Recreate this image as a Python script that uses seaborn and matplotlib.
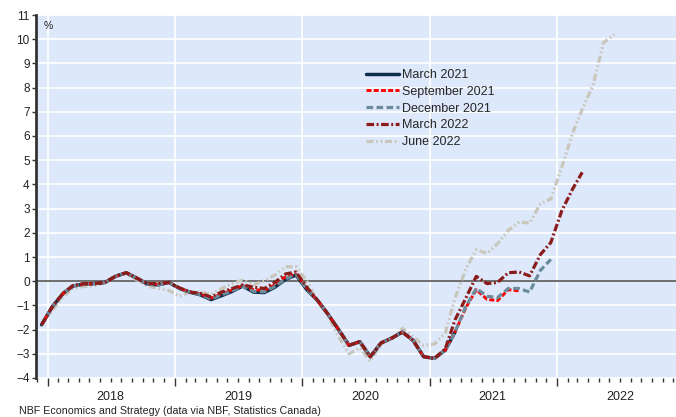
import numpy as np
import pandas as pd
import matplotlib
matplotlib.use("Agg")
import matplotlib.pyplot as plt
import matplotlib.dates as mdates
from matplotlib.ticker import FuncFormatter, NullFormatter, MultipleLocator
import seaborn as sns

# ---------------- data (monthly, starting Dec 2017) ----------------
start_month = "2017-12"

march_2021 = [-1.8, -1.05, -0.5, -0.2, -0.12, -0.1, -0.05, 0.2, 0.35, 0.12, -0.12, -0.15, -0.05,
              -0.3, -0.46, -0.56, -0.76, -0.6, -0.42, -0.2, -0.45, -0.47, -0.25, 0.08, 0.25,
              -0.35, -0.8, -1.35, -2.0, -2.65, -2.5, -3.12, -2.55, -2.35, -2.1, -2.45, -3.12,
              -3.19, -2.85, -2.1]

september_2021 = [-1.8, -1.05, -0.5, -0.2, -0.12, -0.1, -0.05, 0.2, 0.35, 0.12, -0.12, -0.12, -0.05,
                  -0.3, -0.45, -0.53, -0.7, -0.53, -0.36, -0.18, -0.35, -0.38, -0.15, 0.18, 0.3,
                  -0.3, -0.8, -1.35, -2.0, -2.65, -2.5, -3.12, -2.55, -2.35, -2.1, -2.45, -3.12,
                  -3.19, -2.85, -2.1, -1.1, -0.35, -0.75, -0.8, -0.35, -0.4]

december_2021 = [-1.8, -1.05, -0.5, -0.2, -0.12, -0.1, -0.05, 0.2, 0.35, 0.12, -0.12, -0.15, -0.05,
                 -0.3, -0.46, -0.55, -0.73, -0.57, -0.4, -0.2, -0.42, -0.44, -0.22, 0.1, 0.27,
                 -0.33, -0.8, -1.35, -2.0, -2.65, -2.5, -3.12, -2.55, -2.35, -2.1, -2.45, -3.12,
                 -3.19, -2.85, -2.1, -1.05, -0.3, -0.62, -0.68, -0.3, -0.3, -0.45, 0.45, 0.9]

march_2022 = [-1.8, -1.05, -0.5, -0.18, -0.1, -0.1, -0.05, 0.2, 0.35, 0.12, -0.1, -0.1, -0.05,
              -0.28, -0.45, -0.5, -0.65, -0.45, -0.3, -0.15, -0.25, -0.3, -0.05, 0.3, 0.38,
              -0.25, -0.8, -1.35, -2.0, -2.65, -2.5, -3.12, -2.55, -2.35, -2.1, -2.45, -3.12,
              -3.19, -2.8, -1.6, -0.7, 0.2, -0.1, -0.05, 0.35, 0.38, 0.22, 1.1, 1.6,
              2.9, 3.8, 4.5]

june_2022 = [-1.8, -1.2, -0.65, -0.3, -0.22, -0.2, -0.05, 0.22, 0.3, 0.05, -0.2, -0.3, -0.38,
             -0.62, -0.45, -0.45, -0.55, -0.3, -0.1, 0.05, -0.15, 0.02, 0.25, 0.6, 0.6,
             0.0, -0.85, -1.4, -2.3, -3.0, -2.75, -3.3, -2.6, -2.35, -1.95, -2.3, -2.65,
             -2.6, -2.15, -0.7, 0.5, 1.3, 1.15, 1.55, 2.1, 2.45, 2.4, 3.2, 3.4,
             4.7, 6.1, 7.1, 8.1, 9.85, 10.2]

series = {
    "March 2021": march_2021,
    "September 2021": september_2021,
    "December 2021": december_2021,
    "March 2022": march_2022,
    "June 2022": june_2022,
}

y_ticks = list(range(-4, 12))
source_text = "NBF Economics and Strategy (data via NBF, Statistics Canada)"

# ---------------- styles ----------------
styles = {
    "March 2021": dict(color="#0c2f4b", lw=2.5, ls="-"),
    "September 2021": dict(color="#ff0000", lw=2.1, ls=(0, (3.6, 1.6))),
    "December 2021": dict(color="#6b8b9b", lw=2.3, ls=(0, (4.8, 2.4))),
    "March 2022": dict(color="#8b1c1c", lw=2.3, ls=(0, (5.5, 1.8, 1.4, 1.8))),
    "June 2022": dict(color="#c9c6bb", lw=2.3, ls=(0, (5.0, 2.0, 1.2, 2.0, 1.2, 2.0))),
}
draw_order = ["June 2022", "March 2021", "September 2021", "December 2021", "March 2022"]

frames = []
for name, vals in series.items():
    dates = pd.date_range(start_month, periods=len(vals), freq="MS") + pd.Timedelta(days=14)
    frames.append(pd.DataFrame({"date": dates, "value": vals, "vintage": name}))
df = pd.concat(frames, ignore_index=True)

sns.set_theme(style="white")
plt.rcParams["font.family"] = ["Liberation Sans", "DejaVu Sans"]
plt.rcParams["lines.scale_dashes"] = False

fig = plt.figure(figsize=(6.76, 4.17), dpi=100)
ax = fig.add_axes([36 / 676, 1 - 378 / 417, 640 / 676, 363 / 417])
ax.set_facecolor("#dde8fa")

ax.axhline(0, color="#6e6e6e", lw=1.4, zorder=1.5)

handles = {}
for name in draw_order:
    st = styles[name]
    sub = df[df["vintage"] == name]
    sns.lineplot(data=sub, x="date", y="value", ax=ax, color=st["color"],
                 linewidth=st["lw"], linestyle=st["ls"], label=name, zorder=3)
    handles[name] = ax.lines[-1]

ax.set_ylim(-4, 11)
ax.set_yticks(y_ticks)
x0 = pd.Timestamp("2018-01-01") - pd.Timedelta(days=33)
x1 = pd.Timestamp("2022-12-09")
ax.set_xlim(x0, x1)

ax.xaxis.set_major_locator(mdates.YearLocator())
ax.xaxis.set_major_formatter(NullFormatter())
ax.xaxis.set_minor_locator(mdates.MonthLocator())


def minor_fmt(x, pos):
    d = mdates.num2date(x)
    return str(d.year) if d.month == 7 else ""


ax.xaxis.set_minor_formatter(FuncFormatter(minor_fmt))

ax.grid(True, which="major", axis="both", color="white", lw=1.2, zorder=1)
ax.set_axisbelow(True)

for s in ["top", "right", "bottom"]:
    ax.spines[s].set_visible(False)
ax.spines["left"].set_color("#333333")
ax.spines["left"].set_linewidth(2)

ax.tick_params(axis="x", which="major", length=6, width=1, color="#333333", direction="out", bottom=True)
ax.tick_params(axis="x", which="minor", length=3, width=1, color="#333333", direction="out",
               bottom=True, labelsize=9, pad=6, labelcolor="#222222")
ax.tick_params(axis="y", which="major", length=3, width=1, color="#333333", direction="out",
               left=True, labelsize=8.5, pad=1.5, labelcolor="#222222")

ax.set_xlabel("")
ax.set_ylabel("")

ax.text(0.0125, 0.97, "%", transform=ax.transAxes, fontsize=7.5, va="center", ha="left", color="#222222")

legend_order = ["March 2021", "September 2021", "December 2021", "March 2022", "June 2022"]
ax.legend([handles[n] for n in legend_order], legend_order, loc="upper left",
          bbox_to_anchor=((366 - 36) / 640, 1 - (69 - 15) / 363), frameon=False,
          fontsize=9, handlelength=2.6, handletextpad=0.25, labelspacing=0.38,
          borderpad=0, borderaxespad=0)

fig.text(19 / 676, 1 - 410.5 / 417, source_text, fontsize=7.7, ha="left", va="center", color="#222222")

fig.savefig("out.png", dpi=100, facecolor="white")
